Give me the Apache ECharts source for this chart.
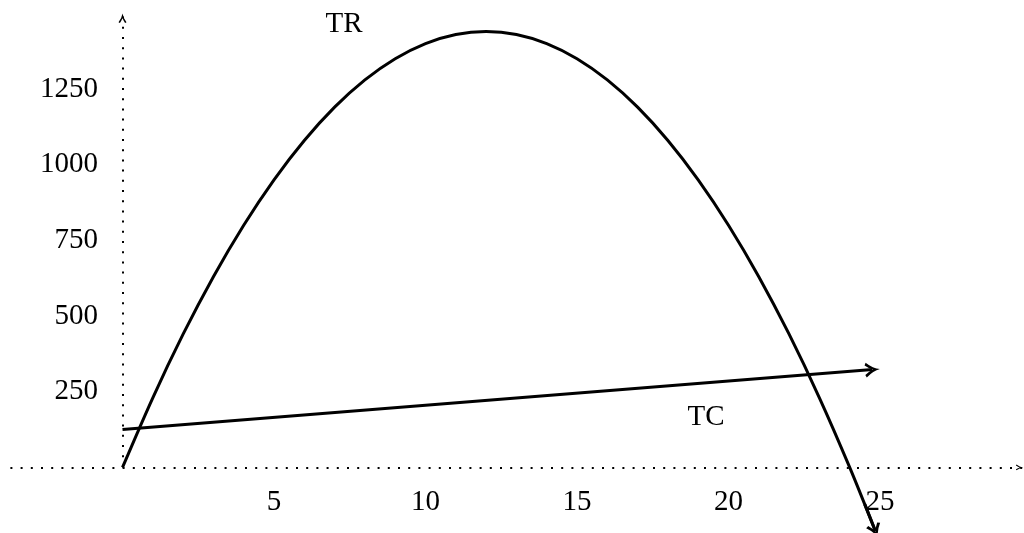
<!DOCTYPE html>
<html>
<head>
<meta charset="utf-8">
<script src="https://cdn.jsdelivr.net/npm/echarts@6/dist/echarts.min.js"></script>
<style>
  html, body { margin: 0; padding: 0; background: #fff; }
  #chart { width: 1024px; height: 533px; }
</style>
</head>
<body>
<div id="chart"></div>
<script>
// Quantity and total revenue readings
const quantity = [0, 1, 2, 3, 4, 5, 6, 7, 8, 9, 10, 11, 12, 13, 14, 15, 16, 17, 18, 19, 20, 21, 22, 23, 24, 24.85];
const revenue = [0, 230, 440, 630, 800, 950, 1080, 1190, 1280, 1350, 1400, 1430, 1440, 1430, 1400, 1350, 1280, 1190, 1080, 950, 800, 630, 440, 230, 0, -211];
// Tail of the revenue curve that carries its arrowhead
const revenueTail = [[24.5, -122], [24.85, -211]];
// Total cost line, start and end
const costLine = [[0, 125], [24.75, 323]];
// Tick labels shown on each axis
const xTickLabels = [5, 10, 15, 20, 25];
const yTickLabels = [250, 500, 750, 1000, 1250];

const FONT = 'Liberation Serif';
// Curved "to" arrowhead, tip pointing up
const ARROW = 'path://M5,0 Q4.2,5.5 0,11 L1.8,12 Q4.4,8.2 5,5.4 Q5.6,8.2 8.2,12 L10,11 Q5.8,5.5 5,0 Z';

const chart = echarts.init(document.getElementById('chart'), null, { renderer: 'canvas' });

const axisLineStyle = { color: '#000', width: 2, type: [2, 8.2], cap: 'butt' };

const GRID_LEFT = 10.4;
const X_MIN = -3.7;
const X_MAX = 29.7;
const GRID_RIGHT = 1.6;
// The vertical axis sits at quantity 0, inside the plot area
const plotWidth = 1024 - GRID_LEFT - GRID_RIGHT;
const yAxisShift = (0 - X_MIN) / (X_MAX - X_MIN) * plotWidth;

chart.setOption({
  animation: false,
  backgroundColor: '#fff',
  grid: { left: GRID_LEFT, right: GRID_RIGHT, top: 13.3, bottom: 65.6, containLabel: false, outerBoundsMode: 'none' },
  xAxis: {
    type: 'value',
    min: X_MIN,
    max: X_MAX,
    splitLine: { show: false },
    axisTick: { show: false },
    axisLine: {
      show: true, lineStyle: axisLineStyle,
      symbol: ['none', ARROW], symbolSize: [7, 7], symbolOffset: [0, -3]
    },
    axisLabel: {
      margin: 20,
      color: '#000',
      fontFamily: FONT,
      fontSize: 29,
      showMinLabel: false,
      showMaxLabel: false,
      formatter: v => (xTickLabels.indexOf(v) >= 0 ? String(v) : '')
    }
  },
  yAxis: {
    type: 'value',
    min: 0,
    max: 1500,
    interval: 250,
    offset: -yAxisShift,
    splitLine: { show: false },
    axisTick: { show: false },
    axisLine: {
      show: true, onZero: false, lineStyle: axisLineStyle,
      symbol: ['none', ARROW], symbolSize: [8, 10], symbolOffset: [0, -5]
    },
    axisLabel: {
      margin: 24.5,
      color: '#000',
      fontFamily: FONT,
      fontSize: 29,
      formatter: v => (yTickLabels.indexOf(v) >= 0 ? String(v) : '')
    }
  },
  series: [
    {
      name: 'TR',
      type: 'line',
      clip: false,
      smooth: 0.3,
      showSymbol: false,
      lineStyle: { color: '#000', width: 3 },
      data: quantity.map((q, i) => [q, revenue[i]]),
      z: 3
    },
    {
      name: 'TR arrow',
      type: 'lines',
      coordinateSystem: 'cartesian2d',
      clip: false,
      symbol: ['none', ARROW],
      symbolSize: [13, 15],
      lineStyle: { color: '#000', width: 3, opacity: 1 },
      data: [{ coords: revenueTail }],
      z: 3
    },
    {
      name: 'TC',
      type: 'lines',
      coordinateSystem: 'cartesian2d',
      clip: false,
      symbol: ['none', ARROW],
      symbolSize: [13, 15],
      lineStyle: { color: '#000', width: 3, opacity: 1 },
      data: [{ coords: costLine }],
      z: 3
    }
  ],
  graphic: [
    {
      type: 'text', x: 344, y: 24,
      style: { text: 'TR', font: '29px "Liberation Serif"', fill: '#000', textAlign: 'center', textVerticalAlign: 'middle' }
    },
    {
      type: 'text', x: 706, y: 417,
      style: { text: 'TC', font: '29px "Liberation Serif"', fill: '#000', textAlign: 'center', textVerticalAlign: 'middle' }
    }
  ]
});
</script>
</body>
</html>
